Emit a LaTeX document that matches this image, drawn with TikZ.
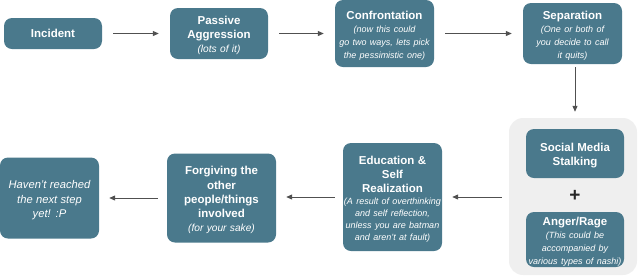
\documentclass[tikz,border=0pt]{standalone}
\usepackage{fontspec}
\setmainfont{Liberation Sans}
\usetikzlibrary{arrows.meta}
\definecolor{boxc}{RGB}{74,121,140}
\definecolor{panelc}{RGB}{239,239,239}
\definecolor{arrc}{RGB}{80,80,80}
\newcommand{\bxtop}{\rule{0pt}{12.5pt}}
\newcommand{\bxtitle}[1]{{\bfseries\fontsize{11.5}{14.2}\selectfont\bxtop #1\par}}
\newcommand{\bxsub}[2][11]{{\itshape\fontsize{9}{#1}\selectfont #2\par}}
\newcommand{\bxsubl}[1]{{\itshape\fontsize{10.2}{13.8}\selectfont #1\par}}
\begin{document}
\begin{tikzpicture}[x=1pt,y=-1pt,
  stepbox/.style={fill=boxc, rounded corners=8pt, text=white, align=center,
    inner xsep=0pt, inner ysep=0pt, anchor=center},
  arr/.style={draw=arrc, line width=1pt, -{Triangle[length=6pt,width=5pt]},
    shorten <=11pt, shorten >=11pt}]
\useasboundingbox (0,0) rectangle (640,277);
% panel
\node[fill=panelc, rounded corners=14pt, minimum width=128pt, minimum height=157pt, inner sep=0pt] (panel) at (573,196.5) {};
% top row
\node[stepbox, text width=98pt, minimum height=31pt] (inc) at (53,33.5) {{\bfseries\fontsize{11.5}{14.2}\selectfont Incident\par}};
\node[stepbox, text width=98pt, minimum height=51pt] (pa) at (219,33.5) {\bxtitle{Passive\\Aggression}\bxsubl{(lots of it)}};
\node[stepbox, text width=99pt, minimum height=67pt] (conf) at (384.5,33.5) {\bxtitle{Confrontation}\bxsub[13]{(now this could\\go two ways, lets pick\\the pessimistic one)}};
\node[stepbox, text width=99pt, minimum height=61pt] (sep) at (572.5,33.5) {\bxtitle{Separation}\bxsub[13]{(One or both of\\you decide to call\\it quits)}};
% panel content
\node[stepbox, text width=98pt, minimum height=49pt] (sms) at (575,153.5) {\bxtitle{Social Media\\Stalking}};
\node[font=\bfseries\fontsize{19}{19}\selectfont, text=black!85, inner sep=0pt] (plus) at (575,196) {+};
\node[stepbox, text width=98pt, minimum height=55pt] (anger) at (575,239.5) {\bxtitle{Anger/Rage}\bxsub[13]{(This could be\\accompanied by\\various types of nashi)}};
% bottom row
\node[stepbox, text width=99pt, minimum height=108pt] (edu) at (392.5,197) {\bxtitle{Education \&\\Self\\Realization}\bxsub[12]{(A result of overthinking\\and self reflection,\\unless you are batman\\and aren't at fault)}};
\node[stepbox, text width=109pt, minimum height=89pt] (forg) at (221.5,198) {\bxtitle{Forgiving the\\other\\people/things\\involved}\bxsubl{(for your sake)}};
\node[stepbox, text width=99pt, minimum height=81pt] (hav) at (49.5,198) {{\itshape\fontsize{11.2}{14.6}\selectfont\bxtop Haven't reached\\the next step\\yet! :P\par}};
% arrows
\draw[arr] (inc.east) -- (pa.west |- inc.east);
\draw[arr] (pa.east) -- (conf.west |- pa.east);
\draw[arr] (conf.east) -- (sep.west |- conf.east);
\draw[arr, shorten <=3pt, shorten >=6pt] (sep.south -| plus) -- (panel.north -| plus);
\draw[arr, shorten <=7pt, shorten >=10pt] (panel.west |- edu.east) -- (edu.east);
\draw[arr, shorten <=8pt, shorten >=10pt] (edu.west) -- (forg.east |- edu.west);
\draw[arr, shorten <=9pt, shorten >=10pt] (forg.west) -- (hav.east |- forg.west);
\end{tikzpicture}
\end{document}
